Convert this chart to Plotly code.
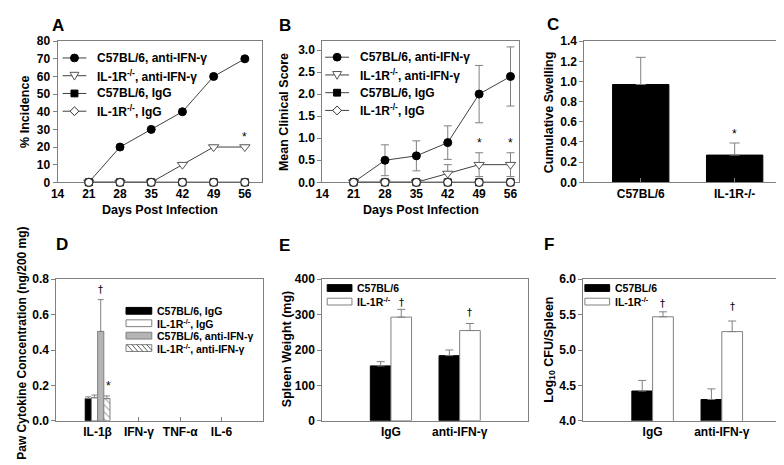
import plotly.graph_objects as go

W, H = 784, 465
FONT = "Arial, Liberation Sans, sans-serif"
GRAY = "#808080"
LINE = "#404040"

# ---------------- data ----------------
days = [21, 28, 35, 42, 49, 56]
day_ticks = [14, 21, 28, 35, 42, 49, 56]

incidence_b6_anti = [0, 20, 30, 40, 60, 70]
incidence_il1r_anti = [0, 0, 0, 10, 20, 20]
incidence_b6_igg = [0, 0, 0, 0, 0, 0]
incidence_il1r_igg = [0, 0, 0, 0, 0, 0]

score_b6_anti = [0, 0.5, 0.6, 0.9, 2.0, 2.4]
score_b6_anti_err = [0, 0.35, 0.34, 0.38, 0.65, 0.67]
score_il1r_anti = [0, 0, 0, 0.2, 0.4, 0.4]
score_il1r_anti_err = [0, 0, 0, 0.2, 0.27, 0.27]
score_b6_igg = [0, 0, 0, 0, 0, 0]
score_il1r_igg = [0, 0, 0, 0, 0, 0]

swelling_groups = ["C57BL/6", "IL-1R-/-"]
swelling = [0.97, 0.27]
swelling_err = [0.27, 0.12]

cytokines = ["IL-1β", "IFN-γ", "TNF-α", "IL-6"]
cyto_b6_igg = [0.125, None, None, None]
cyto_b6_igg_err = [0.01, None, None, None]
cyto_il1r_igg = [0.13, None, None, None]
cyto_il1r_igg_err = [0.015, None, None, None]
cyto_b6_anti = [0.505, None, None, None]
cyto_b6_anti_err = [0.18, None, None, None]
cyto_il1r_anti = [0.125, None, None, None]
cyto_il1r_anti_err = [0.015, None, None, None]

treatments = ["IgG", "anti-IFN-γ"]
spleen_b6 = [155, 184]
spleen_b6_err = [12, 16]
spleen_il1r = [293, 255]
spleen_il1r_err = [22, 20]

cfu_b6 = [4.42, 4.30]
cfu_b6_err = [0.15, 0.15]
cfu_il1r = [5.47, 5.26]
cfu_il1r_err = [0.07, 0.15]

series_names = ["C57BL/6, anti-IFN-γ", "IL-1R<sup>-/-</sup>, anti-IFN-γ",
                "C57BL/6, IgG", "IL-1R<sup>-/-</sup>, IgG"]
cyto_names = ["C57BL/6, IgG", "IL-1R<sup>-/-</sup>, IgG",
              "C57BL/6, anti-IFN-γ", "IL-1R<sup>-/-</sup>, anti-IFN-γ"]
strain_names = ["C57BL/6", "IL-1R<sup>-/-</sup>"]


def X(p):
    return p / W


def Y(p):
    return 1 - p / H


def bfont(size=11, color="black"):
    return dict(family=FONT, size=size, color=color, weight="bold")


fig = go.Figure()

# ---------------- A & B: line charts ----------------
marker_styles = [
    dict(symbol="circle", size=8, color="black", line=dict(color="black", width=1)),
    dict(symbol="triangle-down", size=9, color="white", line=dict(color="#555555", width=1)),
    dict(symbol="square", size=7, color="black", line=dict(color="black", width=1)),
    dict(symbol="circle", size=8, color="white", line=dict(color="#333333", width=1.2)),
]

for xa, ya, vals, errs in [
    ("x", "y",
     [incidence_b6_anti, incidence_il1r_anti, incidence_b6_igg, incidence_il1r_igg],
     [None, None, None, None]),
    ("x2", "y2",
     [score_b6_anti, score_il1r_anti, score_b6_igg, score_il1r_igg],
     [score_b6_anti_err, score_il1r_anti_err, None, None]),
]:
    for i in range(4):
        eb = None
        if errs[i] is not None:
            eb = dict(type="data", array=errs[i], color=GRAY, thickness=1, width=4)
        fig.add_trace(go.Scatter(
            x=days, y=vals[i], mode="lines+markers", xaxis=xa, yaxis=ya,
            name=series_names[i], showlegend=False,
            line=dict(color=LINE, width=1), marker=marker_styles[i],
            error_y=eb, cliponaxis=False,
        ))

# ---------------- C: bar ----------------
fig.add_trace(go.Bar(
    x=[0, 1], y=swelling, xaxis="x3", yaxis="y3", showlegend=False,
    marker=dict(color="black", line=dict(color="black", width=1)),
    error_y=dict(type="data", symmetric=False, array=swelling_err, arrayminus=[0, 0],
                 color=GRAY, thickness=1, width=5),
))

# ---------------- D: cytokine bars ----------------
cyto_x = list(range(len(cytokines)))
cyto_vals = [cyto_b6_igg, cyto_il1r_igg, cyto_b6_anti, cyto_il1r_anti]
cyto_errs = [cyto_b6_igg_err, cyto_il1r_igg_err, cyto_b6_anti_err, cyto_il1r_anti_err]
cyto_markers = [
    dict(color="black", line=dict(color="black", width=1)),
    dict(color="white", line=dict(color=GRAY, width=1)),
    dict(color="#b4b4b4", line=dict(color=GRAY, width=1)),
    dict(color="white", line=dict(color=GRAY, width=1),
         pattern=dict(shape="\\", fgcolor="#333333", bgcolor="white", size=5, solidity=0.2)),
]
for i in range(4):
    fig.add_trace(go.Bar(
        x=cyto_x, y=cyto_vals[i], xaxis="x4", yaxis="y4", showlegend=False,
        name=cyto_names[i], marker=cyto_markers[i],
        error_y=dict(type="data", symmetric=False, array=cyto_errs[i],
                     arrayminus=[0, 0, 0, 0], color=GRAY, thickness=1, width=3),
    ))

# ---------------- E & F ----------------
for xa, ya, b6, b6e, il, ile in [
    ("x5", "y5", spleen_b6, spleen_b6_err, spleen_il1r, spleen_il1r_err),
    ("x6", "y6", cfu_b6, cfu_b6_err, cfu_il1r, cfu_il1r_err),
]:
    fig.add_trace(go.Bar(
        x=[0, 1], y=b6, xaxis=xa, yaxis=ya, showlegend=False, name=strain_names[0],
        marker=dict(color="black", line=dict(color="black", width=1)),
        error_y=dict(type="data", symmetric=False, array=b6e, arrayminus=[0, 0],
                     color=GRAY, thickness=1, width=4),
    ))
    fig.add_trace(go.Bar(
        x=[0, 1], y=il, xaxis=xa, yaxis=ya, showlegend=False, name=strain_names[1],
        marker=dict(color="white", line=dict(color=GRAY, width=1)),
        error_y=dict(type="data", symmetric=False, array=ile, arrayminus=[0, 0],
                     color=GRAY, thickness=1, width=4),
    ))

TICK = 12


# ---------------- axes ----------------
def axis(domain, anchor, **kw):
    d = dict(domain=domain, anchor=anchor, showline=True, linecolor=GRAY, linewidth=1,
             mirror=True, showgrid=False, zeroline=False, tickfont=bfont(TICK),
             ticks="outside", ticklen=4, tickcolor=GRAY, fixedrange=True)
    d.update(kw)
    return d


top_row = [Y(172.5), Y(27)]
bot_row = [Y(418.3), Y(272.5)]

layout_axes = dict(
    xaxis=axis([X(43), X(249)], "y", range=[14, 59.8], tickvals=day_ticks,
               layer="below traces", ticks=""),
    yaxis=axis(top_row, "x", range=[0, 80], dtick=10, layer="below traces"),
    xaxis2=axis([X(310), X(509)], "y2", range=[14, 58], tickvals=day_ticks,
                layer="below traces", ticks=""),
    yaxis2=axis(top_row, "x2", range=[0, 3.2], tickvals=[0, 0.5, 1, 1.5, 2, 2.5, 3],
                tickformat=".1f", layer="below traces"),
    xaxis3=axis([X(574.5), X(783)], "y3", range=[-0.6, 1.6], tickvals=[0, 1],
                ticktext=swelling_groups, ticks="inside"),
    yaxis3=axis(top_row, "x3", range=[0, 1.4], dtick=0.2, tickformat=".1f"),
    xaxis4=axis([X(41.7), X(250)], "y4", range=[-1, 4], tickvals=cyto_x,
                ticktext=cytokines, ticks="inside"),
    yaxis4=axis(bot_row, "x4", range=[0, 0.8], dtick=0.2, tickformat=".1f"),
    xaxis5=axis([X(310), X(518)], "y5", range=[-1, 2], tickvals=[0, 1],
                ticktext=treatments, ticks=""),
    yaxis5=axis(bot_row, "x5", range=[0, 400], dtick=100),
    xaxis6=axis([X(573.5), X(783)], "y6", range=[-1, 2], tickvals=[0, 1],
                ticktext=treatments, ticks=""),
    yaxis6=axis(bot_row, "x6", range=[4, 6], dtick=0.5, tickformat=".1f"),
)

annotations = []
shapes = []


def ann(text, x, y, xref="paper", yref="paper", size=11, angle=0, weight="bold",
        xanchor="center", yanchor="middle", family=FONT):
    annotations.append(dict(text=text, x=x, y=y, xref=xref, yref=yref, showarrow=False,
                            textangle=angle, xanchor=xanchor, yanchor=yanchor,
                            font=dict(family=family, size=size, color="#000000", weight=weight)))


# panel letters
for letter, px, py in [("A", 43.5, 10.5), ("B", 272.5, 10.5), ("C", 542.5, 9.5),
                       ("D", 47, 237), ("E", 272, 237.5), ("F", 538.5, 237)]:
    ann(letter, X(px), Y(py), size=17)

TITLE = 12.5
# axis titles
ann("Days Post Infection", X(146), Y(201.5), size=TITLE)
ann("Days Post Infection", X(409.5), Y(201.5), size=TITLE)
ann("% Incidence", X(10), Y(100), size=TITLE, angle=-90)
ann("Mean Clinical Score", X(271.5), Y(100), size=TITLE, angle=-90)
ann("Cumulative Swelling", X(539), Y(100), size=TITLE, angle=-90)
ann("Paw Cytokine Concentration (ng/200 mg)", X(7), Y(338), size=TITLE - 0.5, angle=-90)
ann("Spleen Weight (mg)", X(274), Y(345), size=TITLE, angle=-90)
ann("Log<sub>10</sub> CFU/Spleen", X(539), Y(345), size=TITLE, angle=-90)

# significance marks
DAG = "DejaVu Sans"
ann("*", 56, 25.5, "x", "y", size=12, weight="normal")
ann("*", 49, 0.89, "x2", "y2", size=12, weight="normal")
ann("*", 56, 0.89, "x2", "y2", size=12, weight="normal")
ann("*", 1, 0.48, "x3", "y3", size=12, weight="normal")
ann("†", 0.075, 0.745, "x4", "y4", size=10, weight="normal", family=DAG)
ann("*", 0.27, 0.195, "x4", "y4", size=12, weight="normal")
ann("†", 0.15, 335, "x5", "y5", size=10, weight="normal", family=DAG)
ann("†", 1.15, 306, "x5", "y5", size=10, weight="normal", family=DAG)
ann("†", 0.15, 5.66, "x6", "y6", size=10, weight="normal", family=DAG)
ann("†", 1.15, 5.61, "x6", "y6", size=10, weight="normal", family=DAG)


# ---------------- manual legends for line charts ----------------
def marker_shape(kind, cx, cy):
    r = 4
    if kind == 0:
        shapes.append(dict(type="circle", xref="paper", yref="paper",
                           x0=X(cx - r), x1=X(cx + r), y0=Y(cy + r), y1=Y(cy - r),
                           fillcolor="black", line=dict(color="black", width=1)))
    elif kind == 1:
        path = "M{},{} L{},{} L{},{} Z".format(X(cx - 4.5), Y(cy - 3.5), X(cx + 4.5), Y(cy - 3.5),
                                               X(cx), Y(cy + 4.5))
        shapes.append(dict(type="path", xref="paper", yref="paper", path=path,
                           fillcolor="white", line=dict(color="#555555", width=1)))
    elif kind == 2:
        shapes.append(dict(type="rect", xref="paper", yref="paper",
                           x0=X(cx - 3.5), x1=X(cx + 3.5), y0=Y(cy + 3.5), y1=Y(cy - 3.5),
                           fillcolor="black", line=dict(color="black", width=1)))
    else:
        path = "M{},{} L{},{} L{},{} L{},{} Z".format(X(cx), Y(cy - 4.5), X(cx + 4.5), Y(cy),
                                                      X(cx), Y(cy + 4.5), X(cx - 4.5), Y(cy))
        shapes.append(dict(type="path", xref="paper", yref="paper", path=path,
                           fillcolor="white", line=dict(color="#333333", width=1)))


for lx, base in [(48, 44.3), (313, 43.5)]:
    for i in range(4):
        yc = base + i * 18.3
        shapes.append(dict(type="line", xref="paper", yref="paper",
                           x0=X(lx), x1=X(lx + 24), y0=Y(yc), y1=Y(yc),
                           line=dict(color=LINE, width=1)))
        marker_shape(i, lx + 12, yc)
        ann(series_names[i], X(lx + 33), Y(yc), size=12, xanchor="left")


# ---------------- manual legends for bar charts ----------------
def swatch(x0, x1, yc, fill, line, hatch=False):
    shapes.append(dict(type="rect", xref="paper", yref="paper",
                       x0=X(x0), x1=X(x1), y0=Y(yc + 3.5), y1=Y(yc - 3.5),
                       fillcolor=fill, line=dict(color=line, width=1)))
    if hatch:
        xs = x0 + 1
        while xs < x1 - 1:
            xe = min(xs + 6, x1)
            ye = (yc - 3.5) + (xe - xs) * 7 / 6
            shapes.append(dict(type="line", xref="paper", yref="paper",
                               x0=X(xs), y0=Y(yc - 3.5), x1=X(xe), y1=Y(ye),
                               line=dict(color="#333333", width=0.8)))
            xs += 5


d_styles = [("black", "black", False), ("white", GRAY, False),
            ("#b4b4b4", GRAY, False), ("white", GRAY, True)]
for i in range(4):
    yc = 305 + i * 12.8
    f, l, h = d_styles[i]
    swatch(112, 138, yc, f, l, h)
    ann(cyto_names[i], X(141.5), Y(yc), size=10.5, xanchor="left")

for lx, base in [(315, 281.5), (575, 281.5)]:
    for i in range(2):
        yc = base + i * 14
        f, l, h = d_styles[i]
        swatch(lx, lx + 25, yc, f, l, h)
        ann(strain_names[i], X(lx + 28.5), Y(yc), size=10.5, xanchor="left")

fig.update_layout(
    width=W, height=H, margin=dict(l=0, r=0, t=0, b=0),
    paper_bgcolor="white", plot_bgcolor="white",
    font=dict(family=FONT, color="black"),
    barmode="group", bargap=0.4, bargroupgap=0, showlegend=False,
    annotations=annotations, shapes=shapes,
    **layout_axes,
)

fig.write_html("out.html")
